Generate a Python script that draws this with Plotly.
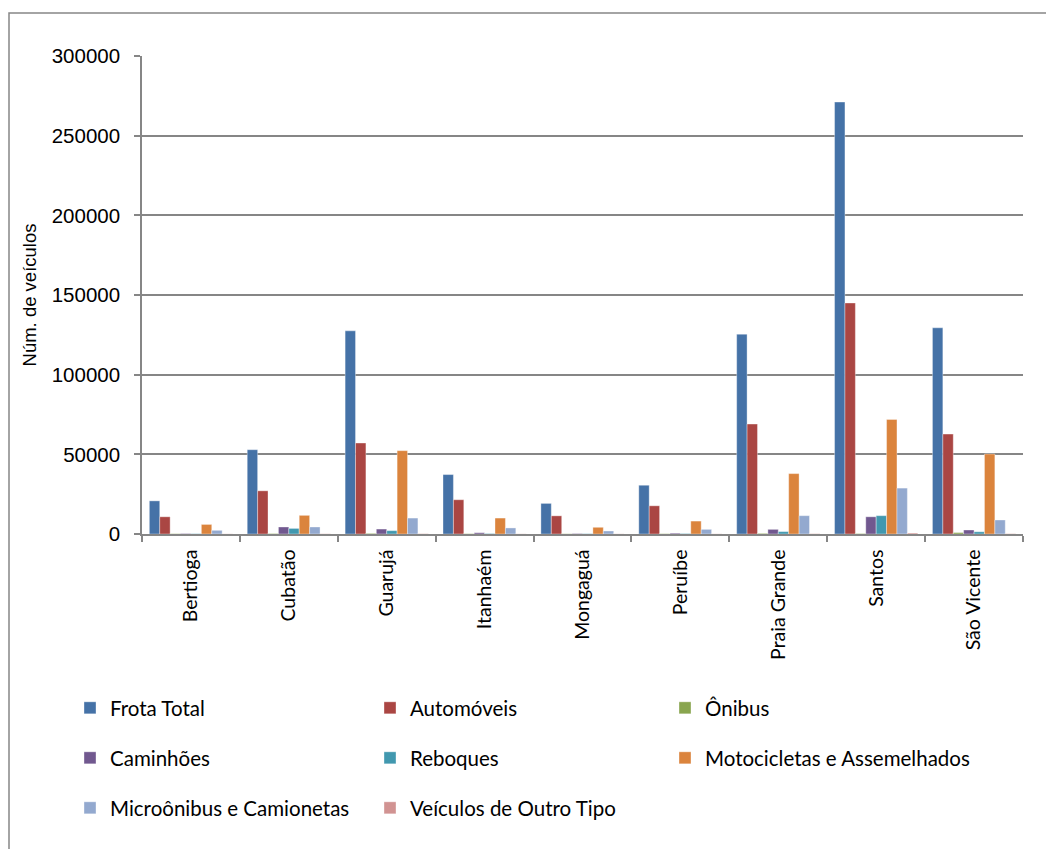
import plotly.graph_objects as go

categories = ["Bertioga", "Cubatão", "Guarujá", "Itanhaém", "Mongaguá",
              "Peruíbe", "Praia Grande", "Santos", "São Vicente"]

frota_total = [20800, 52900, 127500, 37300, 19200, 30600, 125400, 271100, 129400]
automoveis = [10800, 27100, 57100, 21500, 11400, 17700, 69000, 145000, 62700]
onibus = [200, 300, 400, 200, 150, 200, 400, 300, 900]
caminhoes = [300, 4400, 3100, 800, 300, 500, 2900, 10800, 2500]
reboques = [200, 3500, 2100, 300, 200, 300, 1500, 11500, 1400]
motocicletas = [6000, 11700, 52300, 10000, 4200, 8100, 37900, 71900, 50200]
microonibus = [2300, 4400, 10000, 3800, 1900, 2900, 11500, 28800, 8800]
outro_tipo = [100, 150, 200, 100, 100, 100, 200, 600, 200]

series_names = ["Frota Total", "Automóveis", "Ônibus", "Caminhões", "Reboques",
                "Motocicletas e Assemelhados", "Microônibus e Camionetas",
                "Veículos de Outro Tipo"]
series_values = [frota_total, automoveis, onibus, caminhoes, reboques,
                 motocicletas, microonibus, outro_tipo]
colors = ["#4572A7", "#AA4643", "#89A54E", "#71588F", "#4198AF",
          "#DB843D", "#93A9CF", "#D19392"]
legend_rows = ["legend", "legend", "legend4", "legend2", "legend2", "legend5",
               "legend3", "legend3"]

fig = go.Figure()
for name, vals, col, lg in zip(series_names, series_values, colors, legend_rows):
    fig.add_trace(go.Bar(x=categories, y=vals, name=name, legend=lg,
                         marker=dict(color=col, line=dict(width=0.6, color="rgba(255,255,255,0.6)"))))

W, H = 1046, 849
L, R, T, B = 142, 23, 56, 315
pw, ph = W - L - R, H - T - B

def px_x(p):
    return (p - L) / pw

def px_y(p):
    return (H - B - p) / ph

legend_font = dict(family="Lato", size=20.5, color="#000")
legend_common = dict(orientation="h", xanchor="left", yanchor="middle",
                     x=px_x(70), font=legend_font,
                     bgcolor="rgba(0,0,0,0)", entrywidth=255,
                     entrywidthmode="pixels", itemclick=False)
legend_col3 = dict(orientation="h", xanchor="left", yanchor="middle",
                   x=px_x(665), font=legend_font,
                   bgcolor="rgba(0,0,0,0)", itemclick=False)

fig.update_layout(
    width=W, height=H,
    margin=dict(l=L, r=R, t=T, b=B, autoexpand=False),
    paper_bgcolor="white", plot_bgcolor="white",
    barmode="group", bargap=0.15, bargroupgap=0,
    showlegend=True,
    legend=dict(y=px_y(708), **legend_common),
    legend2=dict(y=px_y(758), **legend_common),
    legend3=dict(y=px_y(808), **legend_common),
    legend4=dict(y=px_y(708), **legend_col3),
    legend5=dict(y=px_y(758), **legend_col3),
    xaxis=dict(
        showline=True, linecolor="#868686", linewidth=1.5,
        ticks="outside", ticklen=6, tickcolor="#868686", tickwidth=1.5,
        tickson="boundaries", tickangle=-90,
        tickfont=dict(family="Lato", size=19.5, color="#000"),
        showgrid=False, ticklabelstandoff=6,
    ),
    yaxis=dict(
        range=[0, 300000], tickvals=[0, 50000, 100000, 150000, 200000, 250000, 300000],
        ticktext=["0", "50000", "100000", "150000", "200000", "250000", "300000"],
        showline=True, linecolor="#868686", linewidth=1.5,
        ticks="outside", ticklen=6, tickcolor="#868686", tickwidth=1.5,
        showgrid=True, gridcolor="#868686", gridwidth=1.5,
        zeroline=False,
        tickfont=dict(family="Liberation Sans", size=20.5, color="#000"),
        ticklabelstandoff=10,
        title=dict(text="Núm. de veículos", standoff=10,
                   font=dict(family="Liberation Sans", size=18.5, color="#000")),
    ),
    shapes=[dict(type="rect", xref="paper", yref="paper",
                 x0=px_x(9), x1=px_x(1060), y0=px_y(870), y1=px_y(13),
                 line=dict(color="#868686", width=1.5), layer="below")],
)

fig.write_html("out.html")
